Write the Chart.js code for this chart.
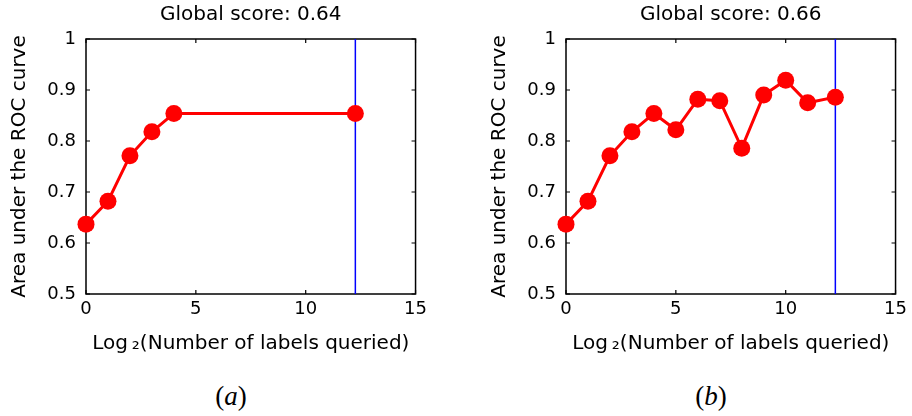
<!DOCTYPE html>
<html>
<head>
<meta charset="utf-8">
<script src="https://cdn.jsdelivr.net/npm/chart.js@4/dist/chart.umd.min.js"></script>
<style>
  body { margin: 0; background: #fff; width: 912px; height: 416px; position: relative; overflow: hidden; }
  .panel { position: absolute; top: 0; width: 432px; height: 360px; }
  .tag { position: absolute; top: 381px; width: 80px; text-align: center;
         font-family: "Liberation Serif", serif; font-size: 27px; color: #000; }
</style>
</head>
<body>
<div class="panel" style="left:0"><canvas id="chartA" width="432" height="360"></canvas></div>
<div class="panel" style="left:480px"><canvas id="chartB" width="432" height="360"></canvas></div>
<div class="tag" style="left:191px">(<i>a</i>)</div>
<div class="tag" style="left:671px">(<i>b</i>)</div>

<script>
// Data
const roundsA = [0, 1, 2, 3, 4, 12.26];
const aucA = [0.637, 0.682, 0.771, 0.818, 0.854, 0.854];
const roundsB = [0, 1, 2, 3, 4, 5, 6, 7, 8, 9, 10, 11, 12.26];
const aucB = [0.637, 0.682, 0.771, 0.818, 0.854, 0.822, 0.882, 0.879, 0.786, 0.890, 0.919, 0.875, 0.886];
const cutoff = 12.26;
const scoreA = 'Global score: 0.64';
const scoreB = 'Global score: 0.66';
const xTitle = 'Log\u2009\u2082(Number of labels queried)';
const yTitle = 'Area under the ROC curve';

const FONT = '"DejaVu Sans", sans-serif';

// box around the plot with matlab style inward ticks
const boxTicks = {
  id: 'boxTicks',
  beforeDatasetsDraw(chart) {
    const { ctx, chartArea: a, scales } = chart;
    ctx.save();
    ctx.strokeStyle = '#000';
    ctx.lineWidth = 1.5;
    ctx.strokeRect(a.left, a.top, a.right - a.left, a.bottom - a.top);
    ctx.lineWidth = 1.2;
    ctx.beginPath();
    scales.x.ticks.forEach(t => {
      const px = scales.x.getPixelForValue(t.value);
      ctx.moveTo(px, a.bottom); ctx.lineTo(px, a.bottom - 4);
      ctx.moveTo(px, a.top); ctx.lineTo(px, a.top + 4);
    });
    scales.y.ticks.forEach(t => {
      const py = scales.y.getPixelForValue(t.value);
      ctx.moveTo(a.left, py); ctx.lineTo(a.left + 4, py);
      ctx.moveTo(a.right, py); ctx.lineTo(a.right - 4, py);
    });
    ctx.stroke();
    ctx.restore();
  }
};

function makePanel(id, xs, ys, title) {
  const ctx = document.getElementById(id).getContext('2d');
  return new Chart(ctx, {
    type: 'line',
    data: {
      datasets: [{
        data: xs.map((x, i) => ({ x: x, y: ys[i] })),
        borderColor: '#ff0000',
        backgroundColor: '#ff0000',
        borderWidth: 3,
        pointRadius: 8.5,
        pointBorderWidth: 0,
        clip: false
      }, {
        data: [{ x: cutoff, y: 0.5 }, { x: cutoff, y: 1 }],
        borderColor: '#0000ff',
        borderWidth: 1.5,
        pointRadius: 0
      }]
    },
    options: {
      responsive: false,
      animation: false,
      layout: { padding: { left: 0, right: 14, top: 0, bottom: 0 } },
      plugins: {
        legend: { display: false },
        tooltip: { enabled: false },
        title: {
          display: true,
          text: title,
          fullSize: false,
          color: '#000',
          font: { family: FONT, size: 20, weight: 'normal' },
          padding: { top: 3, bottom: 12 }
        }
      },
      scales: {
        x: {
          type: 'linear',
          min: 0, max: 15,
          grid: { display: false, drawTicks: false },
          border: { display: false },
          ticks: { stepSize: 5, color: '#000', padding: 5, font: { family: FONT, size: 18 } },
          title: {
            display: true, text: xTitle, color: '#000',
            font: { family: FONT, size: 20 },
            padding: { top: 0, bottom: 4 }
          },
          afterFit: s => { s.height = 66; }
        },
        y: {
          min: 0.5, max: 1,
          grid: { display: false, drawTicks: false },
          border: { display: false },
          ticks: {
            stepSize: 0.1, color: '#000', padding: 10,
            font: { family: FONT, size: 18 },
            callback: v => String(+v.toFixed(1))
          },
          title: {
            display: true, text: yTitle, color: '#000',
            font: { family: FONT, size: 20 },
            padding: { top: 8, bottom: 0 }
          },
          afterFit: s => { s.width = 86; }
        }
      }
    },
    plugins: [boxTicks]
  });
}

makePanel('chartA', roundsA, aucA, scoreA);
makePanel('chartB', roundsB, aucB, scoreB);
</script>
</body>
</html>
